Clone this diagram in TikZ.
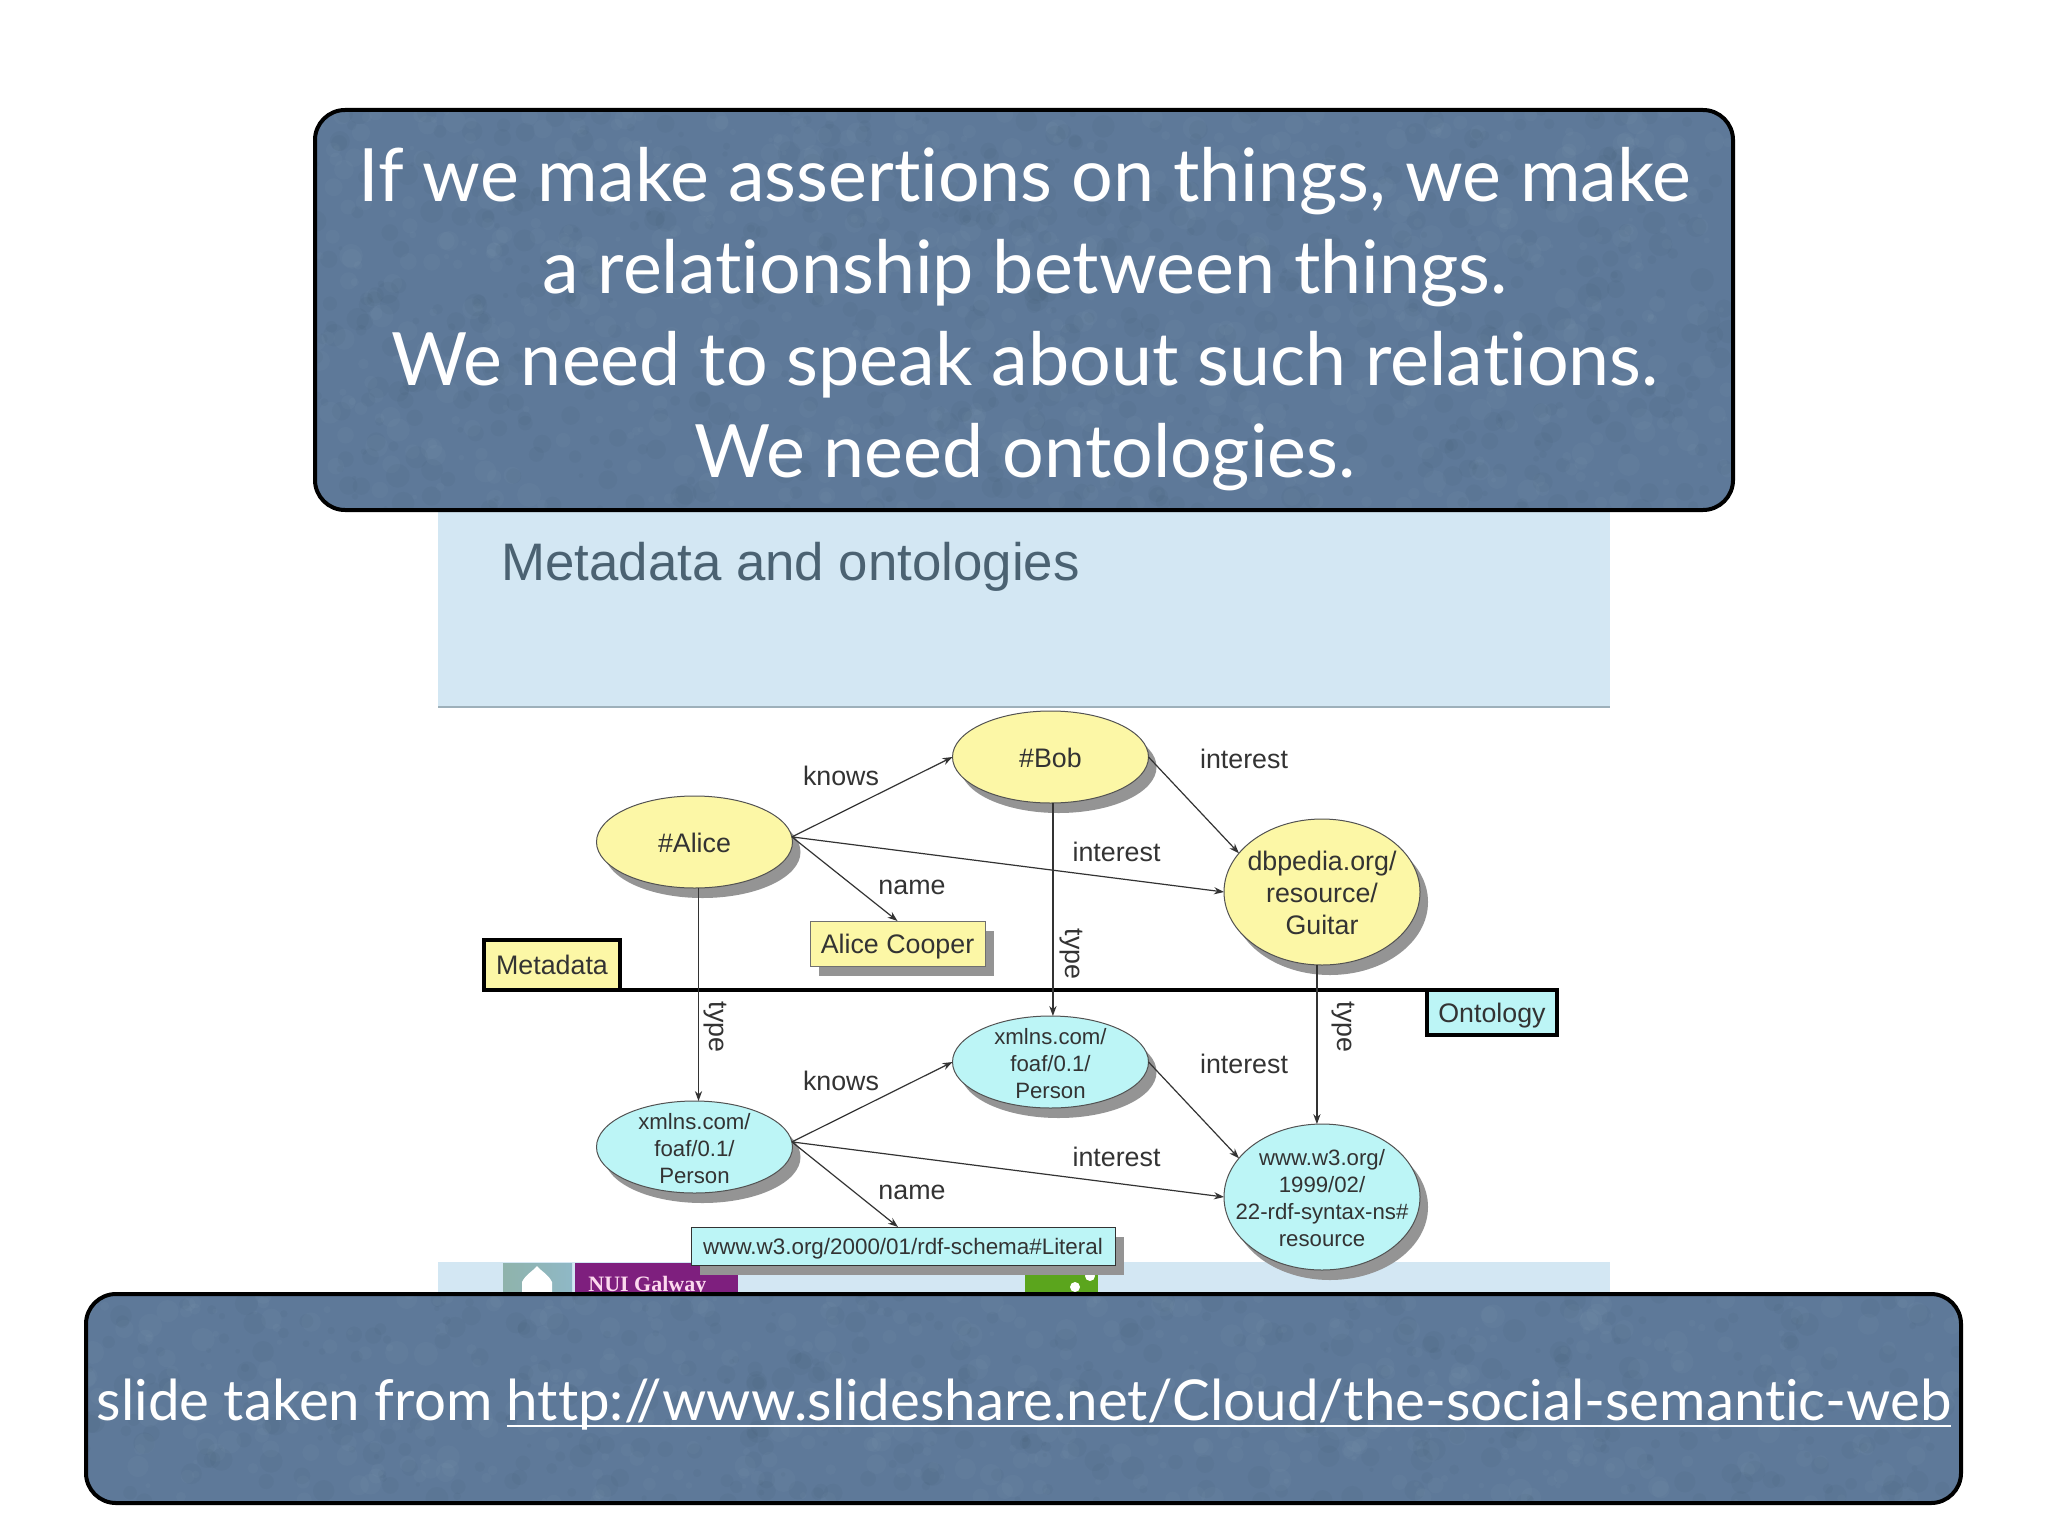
\documentclass[tikz,border=0pt]{standalone}
\usepackage{fontspec}
\setmainfont{Liberation Sans}
\newfontfamily\panelfont[Ligatures=NoCommon]{Lato}
\newfontfamily\logofont{Liberation Serif}
\usetikzlibrary{shapes.geometric,arrows.meta,shadows}
\definecolor{panelblue}{HTML}{5E7999}
\definecolor{hdrblue}{HTML}{D3E7F3}
\definecolor{ruleblue}{HTML}{9DB0BA}
\definecolor{yel}{HTML}{FCF7A6}
\definecolor{cya}{HTML}{BCF5F6}
\definecolor{shgray}{HTML}{949494}
\definecolor{inkc}{HTML}{333333}
\definecolor{titlec}{HTML}{4B6272}
\definecolor{logopurple}{HTML}{7E1F7E}
\definecolor{logogreen}{HTML}{5BA51D}
\definecolor{logoteal}{HTML}{8FB3AB}
\definecolor{logoblue}{HTML}{8FB8C6}
\newcommand{\mottle}[3]{%
  \foreach \i in {1,...,#3}{%
    \pgfmathsetmacro{\xx}{(rnd-0.5)*#1}%
    \pgfmathsetmacro{\yy}{(rnd-0.5)*#2}%
    \pgfmathsetmacro{\rr}{1+rnd*5}%
    \pgfmathsetmacro{\tone}{mod(\i,2)==0?100:0}%
    \fill[black!\tone!white,fill opacity=.022] ([xshift=\xx pt,yshift=\yy pt]path picture bounding box.center) circle (\rr pt);
  }}
\newcommand{\celltext}[3]{\makebox[0pt]{\raisebox{-4.4pt}[0pt][0pt]{$\vcenter{\hbox{\fontsize{#1}{#2}\selectfont\begin{tabular}{@{}c@{}}#3\end{tabular}}}$}}}
\newcommand{\lowered}[1]{\raisebox{-.36em}[0pt][0pt]{#1}}
\newsavebox{\linkbox}
\newcommand{\lowrule}[1]{\sbox{\linkbox}{#1}\rlap{\rule[-3.6pt]{\wd\linkbox}{1.2pt}}\usebox{\linkbox}}
\tikzset{
  panel/.style={draw=black,line width=2pt,fill=panelblue,rounded corners=15pt,inner sep=0pt,outer sep=0pt},
  paneltext/.style={text=white,align=center,inner sep=0pt,font=\panelfont\fontsize{36.8}{46}\selectfont},
  ell/.style={ellipse,draw=inkc!85!white,line width=.5pt,inner sep=0pt,outer sep=0pt,minimum width=98pt,minimum height=46pt,text=inkc,
    drop shadow={shadow xshift=4pt,shadow yshift=-5pt,fill=shgray,opacity=1}},
  bigell/.style={ell,minimum height=73pt},
  boxnode/.style={draw=inkc!70!white,line width=.5pt,inner sep=0pt,outer sep=0pt,text=inkc,
    drop shadow={shadow xshift=4.5pt,shadow yshift=-5pt,fill=shgray,opacity=1}},
  tag/.style={draw=black,line width=1.7pt,inner sep=0pt,outer sep=0pt,text=inkc,font=\fontsize{13.4}{16}\selectfont},
  lbl/.style={text=inkc,inner sep=0pt,font=\fontsize{13.4}{16}\selectfont},
  conn/.style={draw=inkc,line width=.6pt,-{Stealth[length=5pt,width=3.6pt]}},
}
\begin{document}
\begin{tikzpicture}[x=0.5pt,y=-0.5pt]
\useasboundingbox (0,0) rectangle (2048,1536);
\fill[white] (0,0) rectangle (2048,1536);
% slide header and footer
\fill[hdrblue] (438,505) rectangle (1610,707);
\draw[ruleblue,line width=1pt] (438,707) -- (1610,707);
\node[anchor=base west,inner sep=0pt,text=titlec,font=\fontsize{26.4}{30}\selectfont] (slidetitle) at (501,580) {Metadata and ontologies};
\fill[hdrblue] (438,1262) rectangle (1610,1300);
% logos
\fill[left color=logoteal,right color=logoblue] (503,1263) rectangle (572,1300);
\fill[white] (522,1300) -- (522,1282) .. controls (526,1274) and (532,1272) .. (537,1266) .. controls (542,1272) and (548,1274) .. (552,1282) -- (552,1300) -- cycle;
\fill[logopurple] (575,1263) rectangle (738,1300);
\node[anchor=base west,inner sep=0pt,text=white!85!magenta,font=\logofont\bfseries\fontsize{11}{13}\selectfont] (nui) at (588,1291) {NUI Galway};
\fill[logogreen] (1025,1270) rectangle (1098,1300);
\fill[white] (1075,1287) circle (2.5pt);
\fill[white] (1090,1276) circle (2.5pt);
% ontology divider
\draw[black,line width=2pt] (484,990) -- (1558,990);
\node[tag,fill=yel,minimum width=68pt,minimum height=25pt] (meta) at (552,965) {\lowered{Metadata}};
\node[tag,fill=cya,minimum width=65pt,minimum height=22.5pt] (onto) at (1492,1012.5) {\lowered{Ontology}};
% upper graph
\node[ell,fill=yel] (alice) at (694.5,842) {\celltext{13.4}{16}{\#Alice}};
\node[ell,fill=yel] (bob) at (1050.5,757) {\celltext{13.4}{16}{\#Bob}};
\node[bigell,fill=yel] (guitar) at (1322,892) {\celltext{13.4}{16}{dbpedia.org/\\resource/\\Guitar}};
\node[boxnode,fill=yel,font=\fontsize{13.4}{16}\selectfont,minimum width=87.5pt,minimum height=22.5pt] (cooper) at (897.5,943.5) {\lowered{Alice Cooper}};
% lower graph
\node[ell,fill=cya] (lperson) at (694.5,1147) {\celltext{11.1}{13.5}{xmlns.com/\\foaf/0.1/\\Person}};
\node[ell,fill=cya] (tperson) at (1050.5,1062) {\celltext{11.1}{13.5}{xmlns.com/\\foaf/0.1/\\Person}};
\node[bigell,fill=cya] (resource) at (1322,1197) {\celltext{11.1}{13.5}{www.w3.org/\\1999/02/\\22-rdf-syntax-ns\#\\resource}};
\node[boxnode,fill=cya,draw=inkc,font=\fontsize{11.2}{13}\selectfont,minimum width=212pt,minimum height=19pt] (literal) at (903,1246) {\lowered{www.w3.org/2000/01/rdf-schema\#Literal}};
% connectors, upper
\draw[conn] (alice.3) -- (bob.west);
\draw[conn] (bob.east) -- (guitar.155);
\draw[conn] (alice.3) -- (guitar.west);
\draw[conn] (alice.3) -- (cooper.north);
\draw[conn] (alice.-85) -- (lperson.85);
\draw[conn] (bob.-87.5) -- (tperson.87.5);
\draw[conn] (guitar.-94.7) -- (resource.94.7);
% connectors, lower
\draw[conn] (lperson.3) -- (tperson.west);
\draw[conn] (tperson.east) -- (resource.155);
\draw[conn] (lperson.3) -- (resource.west);
\draw[conn] (lperson.3) -- ([xshift=-2.5pt]literal.north);
% labels
\node[lbl] (k1) at (841,776) {knows};
\node[lbl] (n1) at (912,887) {name};
\node[lbl] (i1) at (1244,759) {interest};
\node[lbl] (i2) at (1116.5,852) {interest};
\node[lbl,rotate=-90] (t1) at (1071,954) {type};
\node[lbl,rotate=-90] (t2) at (715.5,1027) {type};
\node[lbl,rotate=-90] (t3) at (1343,1027) {type};
\node[lbl] (k2) at (841,1081) {knows};
\node[lbl] (n2) at (912,1192) {name};
\node[lbl] (i3) at (1244,1064) {interest};
\node[lbl] (i4) at (1116.5,1157) {interest};
% panels
\pgfmathsetseed{1234}
\node[panel,minimum width=709pt,minimum height=200pt,path picture={\mottle{709}{200}{1500}}] (toppanel) at (1024,310) {};
\node[panel,minimum width=937.5pt,minimum height=104.5pt,path picture={\mottle{938}{105}{1000}}] (botpanel) at (1023.5,1398.5) {};
\node[paneltext] (toptext) at (1025,319) {If we make assertions on things, we make\\a relationship between things.\\We need to speak about such relations.\\We need ontologies.};
\node[paneltext,anchor=base,font=\panelfont\fontsize{28.2}{36}\selectfont] (bottext) at (1024,1420) {slide taken from \lowrule{http://www.slideshare.net/Cloud/the-social-semantic-web}};
\end{tikzpicture}
\end{document}
